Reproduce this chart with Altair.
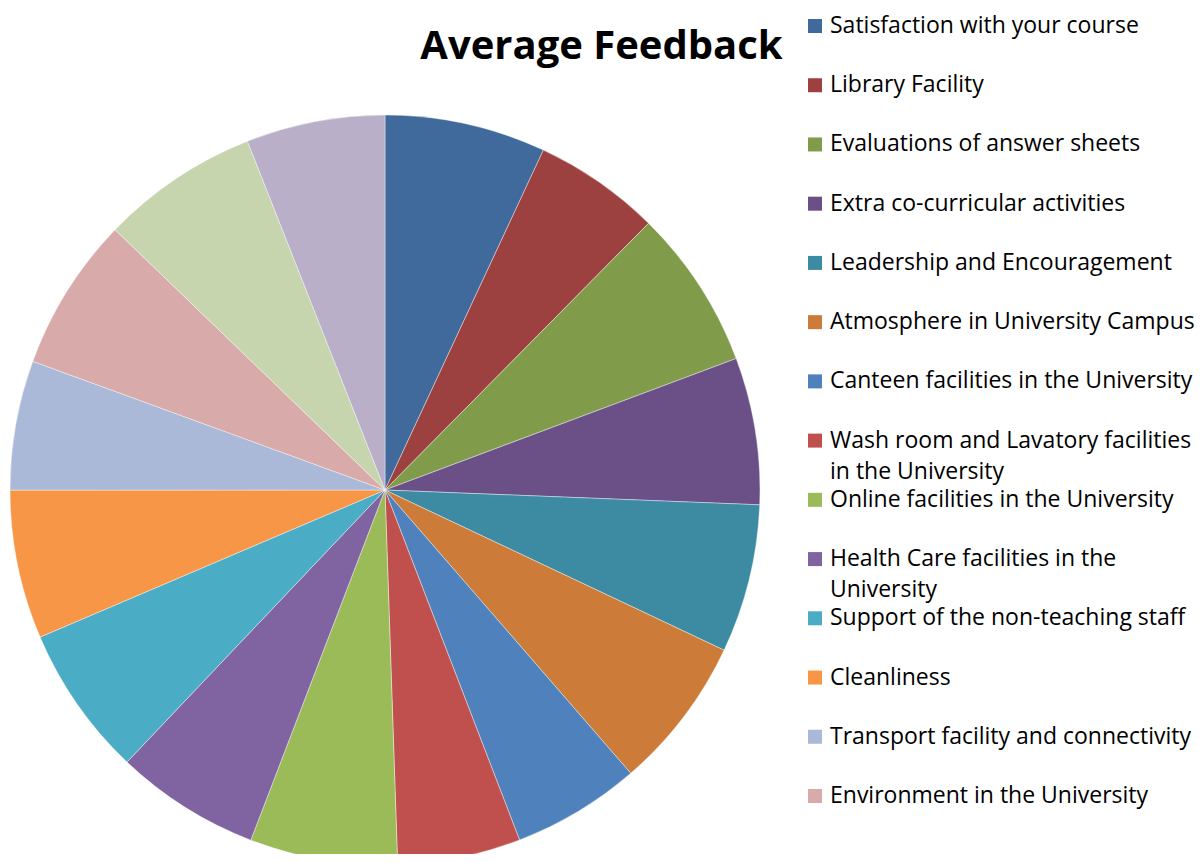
import altair as alt
import pandas as pd

categories = [
    "Satisfaction with your course",
    "Library Facility",
    "Evaluations of answer sheets",
    "Extra co-curricular activities",
    "Leadership and Encouragement",
    "Atmosphere in University Campus",
    "Canteen facilities in the University",
    "Wash room and Lavatory facilities in the University",
    "Online facilities in the University",
    "Health Care facilities in the University",
    "Support of the non-teaching staff",
    "Cleanliness",
    "Transport facility and connectivity",
    "Environment in the University",
    "Hostel facilities in the University",
    "Overall experience",
]
ratings = [4.33, 3.41, 4.30, 3.95, 3.99, 4.12, 3.45, 3.31,
           3.97, 3.90, 4.06, 4.00, 3.48, 4.14, 4.25, 3.73]
colors = [
    "#3F6A9B", "#9C413F", "#809B4A", "#6A5087", "#3C8BA3", "#CC7B38",
    "#4F81BD", "#C0504D", "#9BBB59", "#8064A2", "#4BACC6", "#F79646",
    "#AAB9D7", "#D9AAAA", "#C6D5AD", "#BAAFC9",
]
legend_labels = [
    "Satisfaction with your course",
    "Library Facility",
    "Evaluations of answer sheets",
    "Extra co-curricular activities",
    "Leadership and Encouragement",
    "Atmosphere in University Campus",
    "Canteen facilities in the University",
    "Wash room and Lavatory facilities\nin the University",
    "Online facilities in the University",
    "Health Care facilities in the\nUniversity",
    "Support of the non-teaching staff",
    "Cleanliness",
    "Transport facility and connectivity",
    "Environment in the University",
]

df = pd.DataFrame({"category": categories, "rating": ratings, "idx": range(len(categories))})
legend_cats = categories[:len(legend_labels)]
df_leg = pd.DataFrame({"category": legend_cats, "label": legend_labels})

color_scale = alt.Scale(domain=categories, range=colors)
y_scale = alt.Scale(domain=legend_cats, type="point", range=[18, 788], padding=0)

pie = alt.Chart(df).mark_arc(stroke="white", strokeWidth=0.4).encode(
    theta=alt.Theta("rating:Q", stack=True),
    color=alt.Color("category:N", scale=color_scale, legend=None),
    order=alt.Order("idx:Q"),
    x=alt.value(377),
    y=alt.value(482),
    radius=alt.value(375),
)

sq = alt.Chart(df_leg).mark_square(size=196, opacity=1).encode(
    y=alt.Y("category:N", scale=y_scale, axis=None),
    x=alt.value(807),
    color=alt.Color("category:N", scale=color_scale, legend=None),
)

txt = alt.Chart(df_leg).mark_text(
    align="left", baseline="top", dy=-11, fontSize=23, font="Open Sans",
    lineBreak="\n", lineHeight=31, color="black",
).encode(
    y=alt.Y("category:N", scale=y_scale, axis=None),
    x=alt.value(822),
    text="label:N",
)

chart = alt.layer(pie, sq, txt).properties(
    width=1187,
    height=846,
    autosize=alt.AutoSizeParams(type="none"),
    padding=0,
    title=alt.TitleParams(
        "Average Feedback", fontSize=40, font="Open Sans", fontWeight="bold",
        anchor="middle", color="black", baseline="middle", dy=83,
    ),
).configure_view(stroke=None)

chart.save("out.html", embed_options={"renderer": "svg", "actions": False})
